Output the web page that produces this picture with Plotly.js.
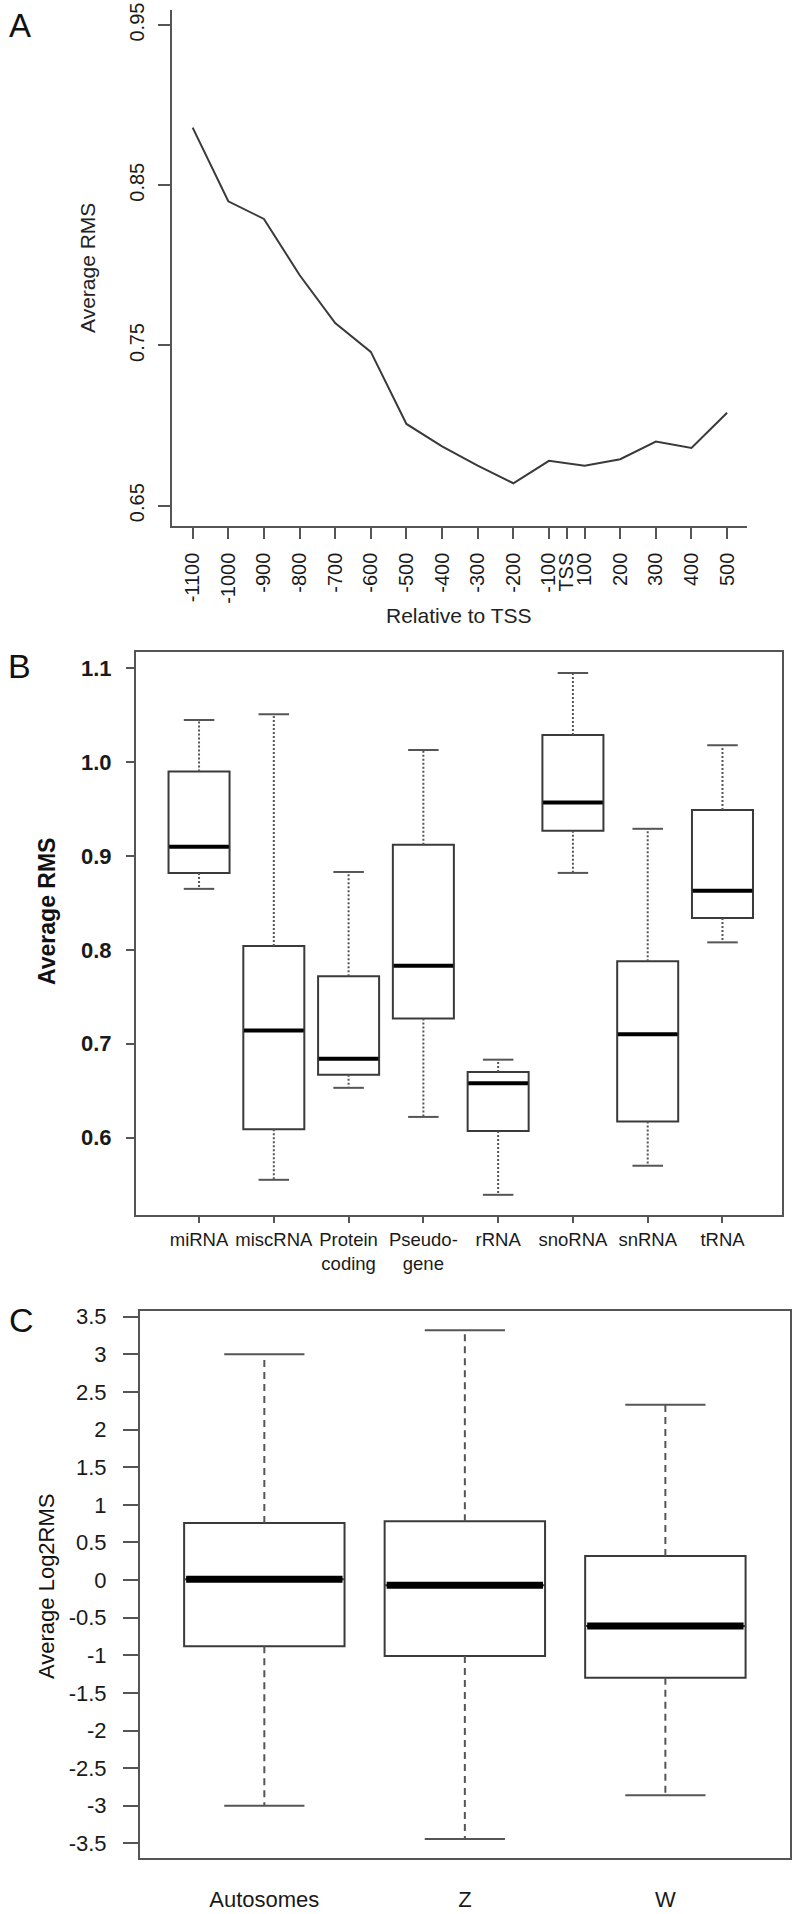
<!DOCTYPE html>
<html>
<head>
<meta charset="utf-8">
<script src="https://cdn.plot.ly/plotly-3.0.1.min.js"></script>
<style>
  html, body { margin: 0; padding: 0; background: #fff; }
  #chart { width: 794px; height: 1914px; }
</style>
</head>
<body>
<div id="chart"></div>
<script>
// ---------------- DATA ----------------
// Panel A: average RMS relative to TSS
const relToTSS = [-1100, -1000, -900, -800, -700, -600, -500, -400, -300, -200, -100, 100, 200, 300, 400, 500];
const avgRMS   = [0.886, 0.840, 0.829, 0.794, 0.764, 0.746, 0.701, 0.687, 0.675, 0.664, 0.678, 0.675, 0.679, 0.690, 0.686, 0.708];
const yTicksA  = [0.65, 0.75, 0.85, 0.95];

// Panel B: RNA types
const rnaTypes  = ['miRNA', 'miscRNA', 'Protein<br>coding', 'Pseudo-<br>gene', 'rRNA', 'snoRNA', 'snRNA', 'tRNA'];
const rnaLower  = [0.865, 0.555, 0.653, 0.622, 0.539, 0.882, 0.570, 0.808];
const rnaQ1     = [0.882, 0.609, 0.667, 0.727, 0.607, 0.927, 0.617, 0.834];
const rnaMedian = [0.910, 0.714, 0.684, 0.783, 0.658, 0.957, 0.710, 0.863];
const rnaQ3     = [0.990, 0.804, 0.772, 0.912, 0.670, 1.029, 0.788, 0.949];
const rnaUpper  = [1.045, 1.051, 0.883, 1.013, 0.683, 1.095, 0.929, 1.018];
const yTicksB   = [0.6, 0.7, 0.8, 0.9, 1.0, 1.1];

// Panel C: chromosome groups (Log2 RMS)
const chromGroups = ['Autosomes', 'Z', 'W'];
const chromLower  = [-3.00, -3.44, -2.86];
const chromQ1     = [-0.88, -1.01, -1.30];
const chromMedian = [0.01, -0.07, -0.61];
const chromQ3     = [0.76, 0.78, 0.32];
const chromUpper  = [3.00, 3.32, 2.33];
const yTicksC     = [-3.5, -3, -2.5, -2, -1.5, -1, -0.5, 0, 0.5, 1, 1.5, 2, 2.5, 3, 3.5];

// ---------------- HELPERS ----------------
const W = 794, H = 1914;
const FONT = 'Liberation Sans, Arial, Helvetica, sans-serif';
const px = v => v / W;
const py = v => 1 - v / H;

function boxTraces(xa, ya, n, lo, q1, med, q3, hi, boxW, whiskDash, medW) {
  const idx = Array.from({length: n}, (_, i) => i + 1);
  const traces = [];
  // whiskers
  const wx = [], wy = [];
  idx.forEach((x, i) => {
    wx.push(x, x, null, x, x, null);
    wy.push(q3[i], hi[i], null, q1[i], lo[i], null);
  });
  traces.push({type: 'scatter', mode: 'lines', x: wx, y: wy, xaxis: xa, yaxis: ya,
    line: {color: '#555', width: 2, dash: whiskDash}, hoverinfo: 'skip', showlegend: false});
  // caps
  const cx = [], cy = [];
  idx.forEach((x, i) => {
    cx.push(x - boxW / 4, x + boxW / 4, null, x - boxW / 4, x + boxW / 4, null);
    cy.push(hi[i], hi[i], null, lo[i], lo[i], null);
  });
  traces.push({type: 'scatter', mode: 'lines', x: cx, y: cy, xaxis: xa, yaxis: ya,
    line: {color: '#555', width: 2}, hoverinfo: 'skip', showlegend: false});
  // boxes
  traces.push({type: 'box', x: idx, q1: q1, median: med, q3: q3,
    lowerfence: q1, upperfence: q3, width: boxW, boxpoints: false,
    xaxis: xa, yaxis: ya, fillcolor: '#ffffff',
    line: {color: '#3a3a3a', width: 2}, hoverinfo: 'skip', showlegend: false});
  // thick medians
  const mx = [], my = [];
  idx.forEach((x, i) => {
    mx.push(x - boxW / 2 + 0.01, x + boxW / 2 - 0.01, null);
    my.push(med[i], med[i], null);
  });
  traces.push({type: 'scatter', mode: 'lines', x: mx, y: my, xaxis: xa, yaxis: ya,
    line: {color: '#000', width: medW}, hoverinfo: 'skip', showlegend: false});
  return traces;
}

// ---------------- PANEL A ----------------
const posA = relToTSS.map((_, i) => i + 1);
const tickValsA = [], tickTextA = [];
relToTSS.forEach((v, i) => {
  if (i > 0 && relToTSS[i - 1] < 0 && v > 0) {
    tickValsA.push((posA[i - 1] + posA[i]) / 2);
    tickTextA.push('TSS');
  }
  tickValsA.push(posA[i]);
  tickTextA.push(String(v));
});

const traces = [];
traces.push({type: 'scatter', mode: 'lines', x: posA, y: avgRMS, xaxis: 'x', yaxis: 'y',
  line: {color: '#3a3a3a', width: 2}, hoverinfo: 'skip', showlegend: false});

// ---------------- PANEL B / C ----------------
traces.push(...boxTraces('x2', 'y2', rnaTypes.length, rnaLower, rnaQ1, rnaMedian, rnaQ3, rnaUpper,
  0.816, '2px,2px', 4));
traces.push(...boxTraces('x3', 'y3', chromGroups.length, chromLower, chromQ1, chromMedian, chromQ3, chromUpper,
  0.8, '7px,5px', 7));

const axisCommon = {showgrid: false, zeroline: false, showline: true, linecolor: '#555', linewidth: 2,
  ticks: 'outside', tickcolor: '#555', tickwidth: 2, fixedrange: true};

const layout = {
  width: W, height: H,
  margin: {l: 0, r: 0, t: 0, b: 0},
  paper_bgcolor: '#fff', plot_bgcolor: '#fff',
  font: {family: FONT, color: '#1a1a1a'},
  showlegend: false,
  // Panel A
  xaxis: Object.assign({}, axisCommon, {
    domain: [px(172), px(746.7)], anchor: 'y', range: [0.42, 16.55],
    tickmode: 'array', tickvals: tickValsA, ticktext: tickTextA, tickangle: -90,
    ticklen: 11, tickfont: {size: 20, family: FONT}, ticklabelstandoff: 6
  }),
  yaxis: Object.assign({}, axisCommon, {
    domain: [py(525.7), py(10)], anchor: 'x', range: [0.6375, 0.9594],
    tickmode: 'array', tickvals: yTicksA, ticktext: yTicksA.map(v => v.toFixed(2)), tickangle: -90,
    ticklen: 12, tickfont: {size: 20, family: FONT}, ticklabelstandoff: 6
  }),
  // Panel B
  xaxis2: Object.assign({}, axisCommon, {
    domain: [px(136), px(782.3)], anchor: 'y2', range: [0.157, 8.80], mirror: true,
    tickmode: 'array', tickvals: rnaTypes.map((_, i) => i + 1), ticktext: rnaTypes,
    ticklen: 6, tickangle: 0, tickfont: {size: 18.5, family: FONT}, ticklabelstandoff: 1
  }),
  yaxis2: Object.assign({}, axisCommon, {
    domain: [py(1215), py(651.7)], anchor: 'x2', range: [0.5175, 1.1177], mirror: true,
    tickmode: 'array', tickvals: yTicksB, ticktext: yTicksB.map(v => v.toFixed(1)),
    ticklen: 8, tickfont: {size: 22, family: FONT, weight: 'bold'}, ticklabelstandoff: 10
  }),
  // Panel C
  xaxis3: Object.assign({}, axisCommon, {
    domain: [px(140), px(789.7)], anchor: 'y3', range: [0.38, 3.62], mirror: true,
    tickmode: 'array', tickvals: chromGroups.map((_, i) => i + 1), ticktext: chromGroups,
    ticks: '', tickfont: {size: 22, family: FONT}, ticklabelstandoff: 21
  }),
  yaxis3: Object.assign({}, axisCommon, {
    domain: [py(1857.7), py(1311)], anchor: 'x3', range: [-3.69, 3.576], mirror: true,
    tickmode: 'array', tickvals: yTicksC, ticktext: yTicksC.map(v => String(v)),
    ticklen: 15, tickfont: {size: 22, family: FONT}, ticklabelstandoff: 12
  }),
  annotations: [
    {text: 'A', x: px(20), y: py(25), xref: 'paper', yref: 'paper', showarrow: false,
      xanchor: 'center', yanchor: 'middle', font: {size: 33, family: FONT, color: '#111'}},
    {text: 'B', x: px(19), y: py(666), xref: 'paper', yref: 'paper', showarrow: false,
      xanchor: 'center', yanchor: 'middle', font: {size: 34, family: FONT, color: '#111'}},
    {text: 'C', x: px(21), y: py(1320), xref: 'paper', yref: 'paper', showarrow: false,
      xanchor: 'center', yanchor: 'middle', font: {size: 34, family: FONT, color: '#111'}},
    {text: 'Average RMS', x: px(87), y: py(268), xref: 'paper', yref: 'paper', showarrow: false,
      textangle: -90, xanchor: 'center', yanchor: 'middle', font: {size: 21, family: FONT, color: '#222'}},
    {text: 'Relative to TSS', x: px(459), y: py(615), xref: 'paper', yref: 'paper', showarrow: false,
      xanchor: 'center', yanchor: 'middle', font: {size: 21, family: FONT, color: '#222'}},
    {text: '<b>Average RMS</b>', x: px(47), y: py(912), xref: 'paper', yref: 'paper', showarrow: false,
      textangle: -90, xanchor: 'center', yanchor: 'middle', font: {size: 23, family: FONT, color: '#111'}},
    {text: 'Average Log2RMS', x: px(46), y: py(1586), xref: 'paper', yref: 'paper', showarrow: false,
      textangle: -90, xanchor: 'center', yanchor: 'middle', font: {size: 22, family: FONT, color: '#111'}}
  ]
};

Plotly.newPlot('chart', traces, layout, {staticPlot: true, displayModeBar: false});
</script>
</body>
</html>
